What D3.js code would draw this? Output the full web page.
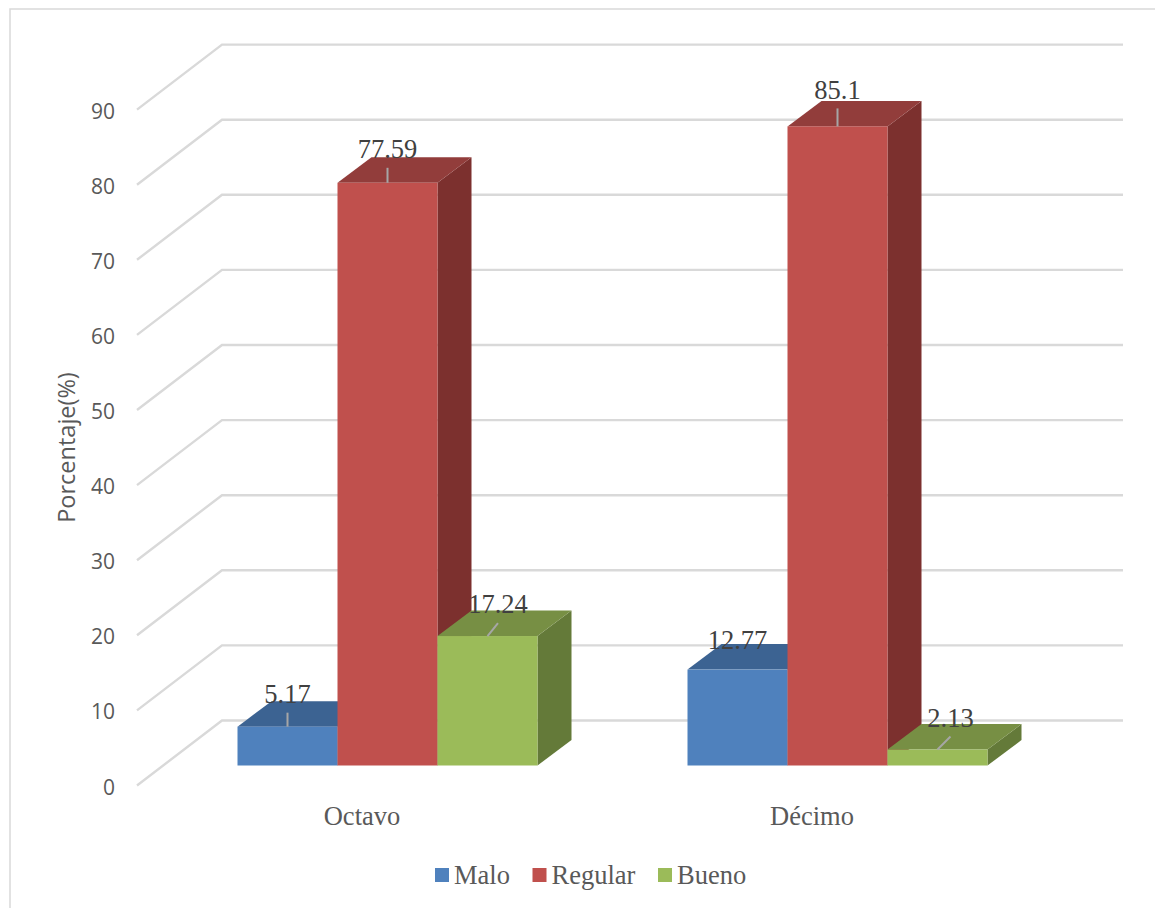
<!DOCTYPE html>
<html><head><meta charset="utf-8">
<script src="https://cdn.jsdelivr.net/npm/d3@7/dist/d3.min.js"></script>
<style>html,body{margin:0;padding:0;background:#fff;overflow:hidden}</style>
</head><body><svg id="c" width="1155" height="908"></svg>
<script>
const categories = ["Octavo", "Décimo"];
const seriesNames = ["Malo", "Regular", "Bueno"];
const malo = [5.17, 12.77];
const regular = [77.59, 85.1];
const bueno = [17.24, 2.13];
const labelMalo = ["5.17", "12.77"];
const labelRegular = ["77.59", "85.1"];
const labelBueno = ["17.24", "2.13"];
const ticks = [0,10,20,30,40,50,60,70,80,90];
const front = ["#4f81bd","#c0504d","#9bbb59"];
const topc = ["#3c6392","#923d3b","#778f44"];
const sidec = ["#3c6392","#7c302e","#647a39"];
const serif = "'Liberation Serif','Times New Roman',serif";
const sans = "'Open Sans','Noto Sans',sans-serif";

const svg = d3.select("#c");
svg.append("path").attr("d","M10 908V9H1155").attr("fill","none").attr("stroke","#d9d9d9").attr("stroke-width",1.5);

// value scale measured along the front plane of the bars
const y = d3.scaleLinear().domain([0,90]).range([765.5,89.6]);
const wallFront = 137, wallBack = 222, wallRight = 1123;
const wallDy = 20, backDy = 45;
const depthX = 34, depthY = 25.5;

const grid = svg.append("g");
ticks.forEach(t=>{
  const yb = y(t)-backDy, yf = y(t)+wallDy;
  grid.append("path").attr("d",d3.line()([[wallFront,yf],[wallBack,yb],[wallRight,yb]]))
    .attr("fill","none").attr("stroke","#d9d9d9").attr("stroke-width",2.4);
  svg.append("text").attr("x",115).attr("y",yf+1.5).attr("dy","0.36em").attr("text-anchor","end")
    .attr("font-family",sans).attr("font-size",21).attr("fill","#595959").text(t);
});

svg.append("text").attr("transform","translate(75,447.5) rotate(-90)").attr("text-anchor","middle")
  .attr("font-family",sans).attr("font-size",23.5).attr("fill","#595959").text("Porcentaje(%)");

const x0 = d3.scaleBand().domain(categories).range([162.5,1062.5]);
const x1 = d3.scaleBand().domain(seriesNames).range([0,300]);
const pad = 75;
const allValues = [malo, regular, bueno];
const allLabels = [labelMalo, labelRegular, labelBueno];
// label styling per series, per category: baseline lift, leader length, leader/label lean
const labelLift = [[24,21],[25,27],[23.5,23]];
const leaderLen = [[14,0],[15,18],[13,13]];
const leaderLean = [[0,0],[0,0],[10.5,13]];

const bars = svg.append("g");
const line = d3.line();
categories.forEach((c,ci)=>{
  seriesNames.forEach((s,si)=>{
    const v = allValues[si][ci];
    const xl = x0(c)+pad+x1(s), xr = xl+x1.bandwidth();
    const yt = y(v), yb = y(0);
    bars.append("path").attr("d",line([[xr,yt],[xr+depthX,yt-depthY],[xr+depthX,yb-depthY],[xr,yb]])+"Z").attr("fill",sidec[si]);
    bars.append("path").attr("d",line([[xl,yt],[xl+depthX,yt-depthY],[xr+depthX,yt-depthY],[xr,yt]])+"Z").attr("fill",topc[si]);
    bars.append("rect").attr("x",xl).attr("y",yt).attr("width",xr-xl).attr("height",yb-yt).attr("fill",front[si]);
  });
});

const labels = svg.append("g");
categories.forEach((c,ci)=>{
  seriesNames.forEach((s,si)=>{
    const v = allValues[si][ci];
    const cx = x0(c)+pad+x1(s)+x1.bandwidth()/2, yt = y(v);
    const lean = leaderLean[si][ci], len = leaderLen[si][ci];
    if(len>0) labels.append("line").attr("x1",cx).attr("y1",yt)
      .attr("x2",cx+lean).attr("y2",yt-len)
      .attr("stroke","#a6a6a6").attr("stroke-width",2);
    labels.append("text").attr("x",cx+lean).attr("y",yt-labelLift[si][ci]).attr("text-anchor","middle")
      .attr("font-family",serif).attr("font-size",26.5).attr("fill","#404040").text(allLabels[si][ci]);
  });
  svg.append("text").attr("x",x0(c)+pad+150-25.5).attr("y",825).attr("text-anchor","middle")
    .attr("font-family",serif).attr("font-size",26.5).attr("fill","#595959").text(c);
});

const legendX = [435,532.5,658];
seriesNames.forEach((s,i)=>{
  svg.append("rect").attr("x",legendX[i]).attr("y",868).attr("width",14).attr("height",14).attr("fill",front[i]);
  svg.append("text").attr("x",legendX[i]+19).attr("y",884).attr("font-family",serif).attr("font-size",26.5).attr("fill","#595959").text(s);
});
</script></body></html>
